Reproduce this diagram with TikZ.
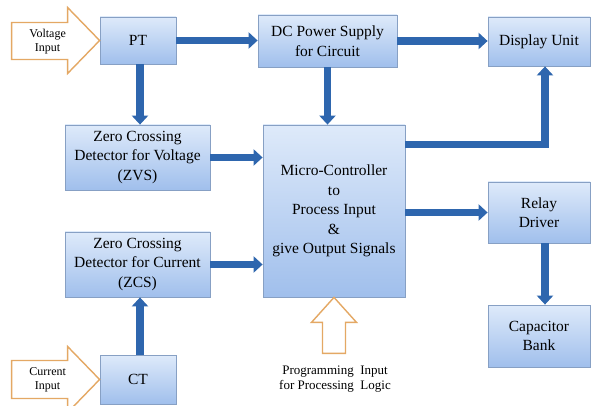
\documentclass[tikz,border=0pt]{standalone}
\usepackage{fontspec}
\setmainfont{Liberation Serif}
\usetikzlibrary{arrows.meta,shadows,calc}
\definecolor{boxtop}{RGB}{222,234,250}
\definecolor{boxbot}{RGB}{160,191,236}
\definecolor{boxedge}{RGB}{135,160,196}
\definecolor{flow}{RGB}{46,102,174}
\definecolor{inarrow}{RGB}{228,168,100}
\tikzset{
  blk/.style={draw=boxedge, line width=0.8pt, top color=boxtop, bottom color=boxbot,
    align=center, inner sep=2pt, font=\fontsize{15.5}{19.5}\selectfont,
    drop shadow={shadow xshift=1.2pt, shadow yshift=-1.2pt, opacity=0.25}},
  flowarrow/.style={draw=flow, line width=7.5pt, -{Triangle[width=16pt,length=9pt]}},
  hollow/.style={draw=inarrow, line width=1.4pt, fill=white, line join=miter},
  smalltxt/.style={align=center, font=\fontsize{12}{14.5}\selectfont},
  progtxt/.style={align=center, font=\fontsize{13}{15}\selectfont}
}
\begin{document}
\begin{tikzpicture}[x=1pt,y=-1pt]
\useasboundingbox (0,0) rectangle (592,406);
\clip (0,0) rectangle (592,406);
\fill[white] (0,0) rectangle (592,406);
% blocks
\node[blk, minimum width=76pt, minimum height=47pt] (PT) at (138,40.5) {PT};
\node[blk, minimum width=139pt, minimum height=52pt] (DC) at (327.5,41) {DC Power Supply\\for Circuit};
\node[blk, minimum width=102pt, minimum height=49pt] (DU) at (539,41.5) {Display Unit};
\node[blk, minimum width=145pt, minimum height=65pt] (ZVS) at (137.5,157.5) {Zero Crossing\\Detector for Voltage\\(ZVS)};
\node[blk, minimum width=145pt, minimum height=65pt] (ZCS) at (137.5,264.5) {Zero Crossing\\Detector for Current\\(ZCS)};
\node[blk, minimum width=142pt, minimum height=172pt] (MC) at (334,211) {Micro-Controller\\to\\Process Input\\\&\\give Output Signals};
\node[blk, minimum width=102pt, minimum height=61pt] (RD) at (539,212.5) {Relay\\Driver};
\node[blk, minimum width=102pt, minimum height=62pt] (CB) at (539,336) {Capacitor\\Bank};
\node[blk, minimum width=76pt, minimum height=49pt] (CT) at (138,379.5) {CT};
% input arrows
\coordinate (vtip) at (PT.west);
\draw[hollow] (vtip) -- ($(vtip)+(-32,-33)$) -- ($(vtip)+(-32,-18)$) -- ($(vtip)+(-88,-18)$)
  -- ($(vtip)+(-88,19)$) -- ($(vtip)+(-32,19)$) -- ($(vtip)+(-32,33)$) -- cycle;
\node[smalltxt] (vin) at ($(vtip)+(-52,1)$) {Voltage\\Input};
\coordinate (ctip) at (CT.west);
\draw[hollow] (ctip) -- ($(ctip)+(-32,-33)$) -- ($(ctip)+(-32,-19)$) -- ($(ctip)+(-88,-19)$)
  -- ($(ctip)+(-88,19)$) -- ($(ctip)+(-32,19)$) -- ($(ctip)+(-32,33)$) -- cycle;
\node[smalltxt] (cin) at ($(ctip)+(-52,0.5)$) {Current\\Input};
\coordinate (ptip) at (MC.south);
\draw[hollow] (ptip) -- ($(ptip)+(22.5,25)$) -- ($(ptip)+(11.5,25)$) -- ($(ptip)+(11.5,56)$)
  -- ($(ptip)+(-11.5,56)$) -- ($(ptip)+(-11.5,25)$) -- ($(ptip)+(-22.5,25)$) -- cycle;
\node[progtxt] (prog) at ($(ptip)+(1,82)$) {Programming\ \ Input\\for Processing\ \ Logic};
% flow arrows
\draw[flowarrow] (PT.east) -- (PT.east -| DC.west);
\draw[flowarrow] (DC.east) -- (DC.east -| DU.west);
\draw[flowarrow] ([xshift=2pt]PT.south) -- ([xshift=2pt]PT.south |- ZVS.north);
\draw[flowarrow] (DC.south) -- (DC.south |- MC.north);
\draw[flowarrow] (ZVS.east) -- (ZVS.east -| MC.west);
\draw[flowarrow] (ZCS.east) -- (ZCS.east -| MC.west);
\draw[flowarrow] ([xshift=2pt]CT.north) -- ([xshift=2pt]CT.north |- ZCS.south);
\draw[flowarrow] ($(MC.north east)+(0,20)$) -| ([xshift=6pt]DU.south);
\draw[flowarrow] (RD.west -| MC.east) -- (RD.west);
\draw[flowarrow] ([xshift=6pt]RD.south) -- ([xshift=6pt]CB.north);
\end{tikzpicture}
\end{document}
